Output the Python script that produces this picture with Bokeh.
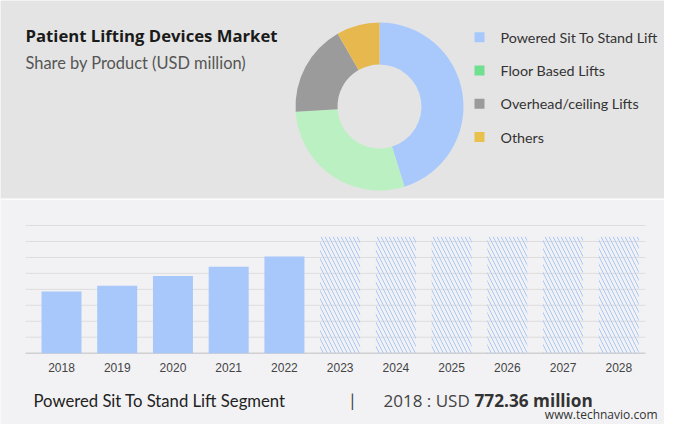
import math
from bokeh.plotting import figure
from bokeh.models import Range1d
from bokeh.core.properties import value
from bokeh.embed import file_html
from bokeh.resources import INLINE

# ---------------- data ----------------
TITLE = "Patient Lifting Devices Market"
SUBTITLE = "Share by Product (USD million)"

segments = ["Powered Sit To Stand Lift", "Floor Based Lifts", "Overhead/ceiling Lifts", "Others"]
shares = [45.2, 28.8, 17.7, 8.3]
donut_colors = ["#a9c9fc", "#bbf0c2", "#9b9b9b", "#e6b84e"]
legend_colors = ["#a6c8fb", "#6fe08f", "#9b9b9b", "#e8c14c"]

hist_years = ["2018", "2019", "2020", "2021", "2022"]
hist_values = [772.36, 846, 968, 1084, 1212]
fcst_years = ["2023", "2024", "2025", "2026", "2027", "2028"]
fcst_values = [1460, 1460, 1460, 1460, 1460, 1460]
grid_values = [200, 400, 600, 800, 1000, 1200, 1400, 1600]

FOOT_LEFT = "Powered Sit To Stand Lift Segment"
FOOT_SEP = "|"
FOOT_YEAR = "2018 : USD"
FOOT_VALUE = "772.36 million"
SOURCE = "www.technavio.com"

TOP_BG = "#e4e4e4"
BOT_BG = "#f2f2f4"
BAR_BLUE = "#a8c8fb"

W, H = 664, 424

# one canvas; main ranges are page pixels (y downward as negative numbers)
p = figure(width=W, height=H, x_range=Range1d(0, W), y_range=Range1d(-H, 0),
           x_axis_type=None, y_axis_type=None, toolbar_location=None,
           output_backend="svg", min_border=0)
p.background_fill_color = BOT_BG
p.border_fill_color = BOT_BG
p.outline_line_color = None
p.xgrid.visible = False
p.ygrid.visible = False

# bar chart scales: category pitch and value scale
PITCH = 55.73          # px per category
X0 = 61.0              # px centre of first category
BASE = 352.7           # px of value 0
PX_PER_UNIT = (352.7 - 225.0) / 1600.0
p.extra_x_ranges = {"bx": Range1d(-X0 / PITCH, (W - X0) / PITCH)}
p.extra_y_ranges = {"by": Range1d(-(H - BASE) / PX_PER_UNIT, BASE / PX_PER_UNIT)}

# ---------------- panels ----------------
p.quad(left=[0], right=[W], top=[0], bottom=[-198], fill_color=TOP_BG, line_color=None)
p.quad(left=[0], right=[W], top=[-198], bottom=[-199.5], fill_color="#fbfbfb", line_color=None)

# ---------------- title ----------------
p.text(x=[25], y=[-35], text=[TITLE], text_font=value("Open Sans"), text_font_style="bold",
       text_font_size="16.7px", text_color="#1a1a1a", text_baseline="middle")
p.text(x=[25], y=[-62], text=[SUBTITLE], text_font=value("Lato"),
       text_font_size="16.4px", text_color="#555555", text_baseline="middle")

# ---------------- donut ----------------
total = float(sum(shares))
starts, ends = [], []
acc = 0.0
for s in shares:
    starts.append(math.pi / 2 - 2 * math.pi * acc / total)
    acc += s
    ends.append(math.pi / 2 - 2 * math.pi * acc / total)
p.annular_wedge(x=[379] * len(shares), y=[-106] * len(shares), inner_radius=42, outer_radius=84,
                start_angle=starts, end_angle=ends, direction="clock",
                fill_color=donut_colors, line_color=None)

# ---------------- legend ----------------
leg_y = [-(36.7 + 33.3 * i) for i in range(len(segments))]
p.scatter(x=[479] * len(segments), y=leg_y, marker="square", size=10,
          fill_color=legend_colors, line_color=None)
p.text(x=[500] * len(segments), y=leg_y, text=segments, text_font=value("Lato"),
       text_font_size="14.3px", text_color="#333333", text_baseline="middle")

# ---------------- bars ----------------
years = hist_years + fcst_years
p.segment(x0=[25] * len(grid_values), x1=[645] * len(grid_values), y0=grid_values, y1=grid_values,
          y_range_name="by", line_color="#dddddf", line_width=1)
p.segment(x0=[25], x1=[645], y0=[0], y1=[0], y_range_name="by", line_color="#d0d0d2", line_width=1.5)

p.vbar(x=list(range(len(hist_years))), top=hist_values, bottom=0, width=0.718,
       x_range_name="bx", y_range_name="by", fill_color=BAR_BLUE, line_color=None)
p.vbar(x=list(range(len(hist_years), len(years))), top=fcst_values, bottom=0, width=0.718,
       x_range_name="bx", y_range_name="by",
       fill_alpha=0, line_color=None, hatch_pattern="\\", hatch_color="#a9c8f5",
       hatch_scale=8, hatch_weight=1)

p.text(x=list(range(len(years))), y=[-367] * len(years), text=years, x_range_name="bx",
       text_font=value("Liberation Sans"), text_font_size="12px", text_color="#444444",
       text_align="center", text_baseline="middle")

# ---------------- footer ----------------
FY = -400
p.text(x=[33], y=[FY], text=[FOOT_LEFT], text_font=value("Lato"),
       text_font_size="16.7px", text_color="#222222", text_baseline="middle")
p.text(x=[352], y=[FY], text=[FOOT_SEP], text_font=value("Lato"),
       text_font_size="17px", text_color="#444444", text_baseline="middle", text_align="center")
p.text(x=[383], y=[FY], text=[FOOT_YEAR], text_font=value("Open Sans"),
       text_font_size="17px", text_color="#444444", text_baseline="middle")
p.text(x=[474], y=[FY], text=[FOOT_VALUE], text_font=value("Open Sans"), text_font_style="bold",
       text_font_size="17.2px", text_color="#333333", text_baseline="middle")
p.text(x=[657], y=[-414], text=[SOURCE], text_font=value("Open Sans"),
       text_font_size="12px", text_color="#333333", text_baseline="middle", text_align="right")

open("out.html", "w").write(file_html(p, INLINE))
